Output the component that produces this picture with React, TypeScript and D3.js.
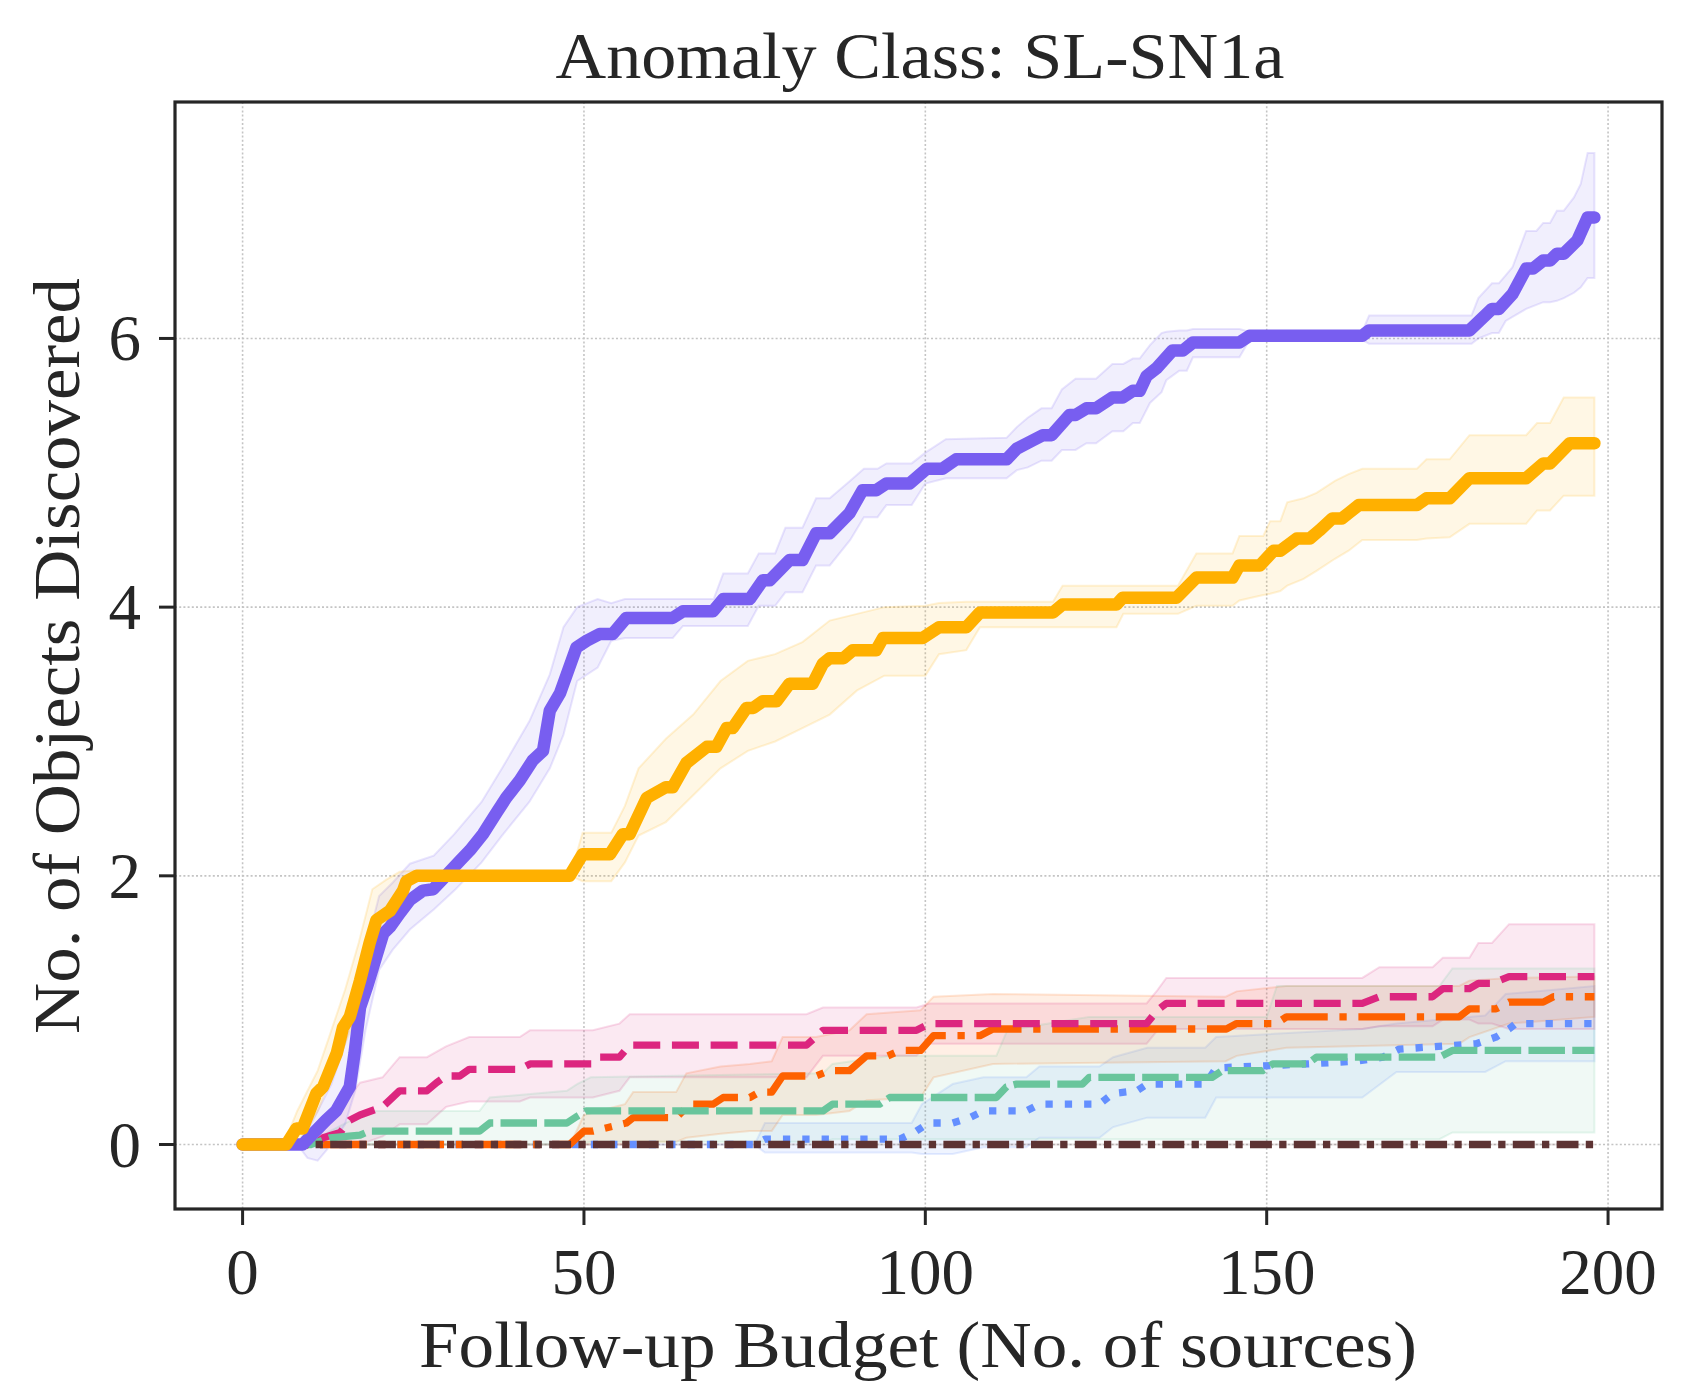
import React, { useEffect, useRef } from "react";
import * as d3 from "d3";

// canvas
const W = 1693;
const H = 1388;

const xTicks = [0, 50, 100, 150, 200];
const yTicks = [0, 2, 4, 6];

// mean curves [budget, objects]
const purpleMean: [number, number][] = [
  [0, 0], [8.8, 0], [10.3, 0.08], [12.2, 0.18], [13.7, 0.25], [15.7, 0.43], [16.4, 0.68], [17.2, 1.02],
  [18.2, 1.17], [19.1, 1.32], [20.6, 1.57], [21.6, 1.62], [23, 1.72], [24.5, 1.82], [26.4, 1.89], [27.9, 1.9],
  [29.4, 1.98], [31.8, 2.11], [33.3, 2.19], [35.2, 2.31], [37.2, 2.47], [38.6, 2.58], [40.6, 2.71], [42.5, 2.86],
  [44, 2.93], [45, 3.23], [46.5, 3.36], [48.9, 3.7], [50.4, 3.75], [52.3, 3.8], [54.2, 3.8], [56.2, 3.92],
  [63, 3.92], [64.5, 3.97], [68.9, 3.97], [70.4, 4.06], [74.3, 4.06], [76.2, 4.2], [77.2, 4.2], [80.1, 4.35],
  [82, 4.35], [84, 4.55], [86, 4.55], [88.9, 4.7], [90.8, 4.87], [92.8, 4.87], [94.3, 4.92], [97.7, 4.92],
  [100.2, 5.03], [102.5, 5.03], [104.5, 5.1], [111.9, 5.1], [113.4, 5.18], [115.7, 5.24], [117.2, 5.28],
  [118.5, 5.28], [121.1, 5.43], [122, 5.43], [123.6, 5.48], [125, 5.48], [127.4, 5.56], [128.9, 5.56],
  [130.4, 5.61], [131.4, 5.61], [132.4, 5.72], [133.9, 5.78], [136.2, 5.91], [137.7, 5.91], [139.2, 5.97],
  [146, 5.97], [147.5, 6.02], [164, 6.02], [165, 6.06], [179.7, 6.06], [183, 6.22], [184, 6.22], [186, 6.33],
  [188, 6.52], [189, 6.52], [190.5, 6.58], [191.5, 6.58], [192.5, 6.63], [193.5, 6.63], [195.5, 6.73],
  [197, 6.9], [198, 6.9],
];

const goldMean: [number, number][] = [
  [0, 0], [6.4, 0], [7.9, 0.12], [8.8, 0.12], [10.8, 0.38], [11.8, 0.43], [13.8, 0.68], [14.7, 0.87],
  [15.7, 0.95], [17.2, 1.22], [18.6, 1.5], [19.6, 1.67], [21.6, 1.74], [23.5, 1.89], [24, 1.96], [25.5, 2.0],
  [47.9, 2.0], [49.8, 2.16], [53.8, 2.16], [55.7, 2.31], [56.7, 2.31], [59.2, 2.58], [62, 2.66], [63, 2.66],
  [65, 2.84], [68, 2.96], [69.4, 2.96], [70.9, 3.1], [71.8, 3.1], [73.8, 3.25], [74.8, 3.25], [76.2, 3.3],
  [78.2, 3.3], [80.1, 3.43], [83.5, 3.43], [85, 3.58], [86, 3.62], [88, 3.62], [89.4, 3.68], [92.8, 3.68],
  [93.8, 3.77], [99.6, 3.77], [102, 3.85], [106, 3.85], [108, 3.96], [118.7, 3.96], [120.1, 4.02], [128, 4.02],
  [128.9, 4.07], [136.8, 4.07], [139.7, 4.22], [145, 4.22], [146, 4.31], [149, 4.31], [151, 4.42], [152, 4.42],
  [154.4, 4.51], [156.3, 4.51], [157.7, 4.57], [159.6, 4.66], [161, 4.66], [162, 4.7], [163.5, 4.76],
  [172, 4.76], [173.4, 4.81], [176.8, 4.81], [179.7, 4.96], [188, 4.96], [190.5, 5.07], [191.5, 5.07],
  [194.4, 5.22], [198, 5.22],
];

const pinkMean: [number, number][] = [
  [0, 0], [10.5, 0], [11.8, 0.05], [14.3, 0.09], [15.7, 0.18], [17.2, 0.22], [20.5, 0.28], [23, 0.4],
  [27, 0.4], [28.4, 0.46], [29.8, 0.51], [31.8, 0.51], [33.2, 0.56], [40.6, 0.56], [42.1, 0.6], [51.3, 0.6],
  [52.3, 0.65], [55.2, 0.65], [56.7, 0.74], [82.6, 0.74], [85, 0.85], [98.7, 0.85], [100.6, 0.9],
  [132.4, 0.9], [134, 1.0], [135.3, 1.05], [164, 1.05], [166.5, 1.1], [174.3, 1.1], [175.8, 1.16],
  [179.7, 1.16], [181, 1.2], [183, 1.2], [185.5, 1.25], [198, 1.25],
];

const orangeMean: [number, number][] = [
  [0, 0], [47.9, 0], [50, 0.1], [51.3, 0.1], [56.2, 0.16], [57.2, 0.2], [63.5, 0.2], [65.5, 0.3], [68.9, 0.3],
  [70.4, 0.35], [74.3, 0.35], [75.7, 0.39], [77.5, 0.39], [79.1, 0.51], [84, 0.51], [86, 0.55], [88.9, 0.55],
  [91.4, 0.66], [94.5, 0.66], [96.3, 0.7], [99.3, 0.7], [101.2, 0.81], [108, 0.81], [109.9, 0.86],
  [144.1, 0.86], [145.6, 0.9], [151.4, 0.9], [152.9, 0.95], [178.2, 0.95], [179.7, 1.01], [183.6, 1.01],
  [185.5, 1.06], [190.5, 1.06], [192, 1.1], [198, 1.1],
];

const greenMean: [number, number][] = [
  [0, 0], [10, 0], [12.8, 0.05], [17.2, 0.07], [18.6, 0.1], [34.7, 0.1], [36.2, 0.16], [47.5, 0.16],
  [49, 0.21], [50.3, 0.25], [85, 0.25], [86.4, 0.3], [93.3, 0.3], [94.8, 0.35], [110.4, 0.35], [111.9, 0.43],
  [113.4, 0.45], [123, 0.45], [124, 0.5], [142, 0.5], [143.5, 0.55], [149.4, 0.55], [150.9, 0.6], [156, 0.6],
  [157.3, 0.65], [175.3, 0.65], [177.2, 0.7], [198, 0.7],
];

const blueMean: [number, number][] = [
  [0, 0], [75, 0], [76.5, 0.04], [96.3, 0.04], [98.7, 0.1], [100.5, 0.16], [104, 0.16], [106.5, 0.2],
  [108.5, 0.25], [114.8, 0.25], [116.7, 0.3], [125.5, 0.3], [127.5, 0.38], [131, 0.4], [132.5, 0.45],
  [141, 0.45], [142.6, 0.57], [156, 0.6], [163, 0.62], [167, 0.65], [169.4, 0.71], [180.7, 0.75],
  [183.6, 0.8], [185.5, 0.86], [186.5, 0.9], [198, 0.9],
];

const brownMean: [number, number][] = [[0, 0], [198, 0]];

// spread bands [budget, low, high]
const purpleBand: [number, number, number][] = [
  [0, 0, 0], [8, 0, 0], [9.5, -0.1, 0.1], [11, -0.12, 0.25], [13, 0, 0.45], [15, 0.15, 0.75], [16.5, 0.4, 1.05],
  [18, 0.85, 1.45], [20, 1.3, 1.85], [22, 1.45, 1.95], [24.5, 1.6, 2.09], [28, 1.75, 2.15], [31, 1.89, 2.31],
  [35, 2.1, 2.55], [38, 2.3, 2.8], [42, 2.55, 3.15], [45, 2.8, 3.5], [47, 3.05, 3.85], [49, 3.45, 4.0],
  [52, 3.55, 4.06], [54, 3.75, 4.03], [56, 3.77, 4.06], [63, 3.77, 4.06], [64.5, 3.86, 4.06], [69, 3.86, 4.06],
  [70.4, 3.86, 4.25], [74, 3.86, 4.25], [75.6, 4.01, 4.4], [78, 4.01, 4.4], [79.5, 4.11, 4.59], [82, 4.11, 4.59],
  [84, 4.31, 4.81], [86, 4.31, 4.81], [89, 4.5, 4.94], [91, 4.67, 5.03], [93, 4.67, 5.03], [94.3, 4.76, 5.07],
  [98, 4.76, 5.07], [100, 4.92, 5.15], [103, 4.96, 5.25], [111.9, 4.96, 5.26], [113.4, 5.02, 5.34],
  [115, 5.04, 5.41], [117, 5.09, 5.48], [118.5, 5.09, 5.48], [120, 5.17, 5.62], [122, 5.17, 5.7],
  [123.6, 5.22, 5.7], [125, 5.22, 5.7], [127.4, 5.31, 5.81], [129, 5.31, 5.81], [130.4, 5.37, 5.85],
  [131.4, 5.37, 5.85], [132.9, 5.52, 5.95], [134.6, 5.6, 6.04], [135.3, 5.69, 6.05], [137.2, 5.76, 6.06],
  [138.3, 5.76, 6.06], [139.2, 5.86, 6.07], [146, 5.86, 6.07], [147.5, 5.99, 6.05], [164, 5.99, 6.05],
  [165, 5.96, 6.17], [180, 5.96, 6.17], [181, 6.0, 6.3], [183, 6.04, 6.41], [184, 6.04, 6.41], [185, 6.13, 6.47],
  [186, 6.16, 6.53], [188, 6.22, 6.8], [189.5, 6.25, 6.8], [190.5, 6.27, 6.86], [191.5, 6.27, 6.86],
  [192.5, 6.28, 6.95], [193.5, 6.3, 6.95], [195, 6.34, 7.05], [196, 6.38, 7.15], [197, 6.45, 7.38],
  [198, 6.45, 7.38],
];

const goldBand: [number, number, number][] = [
  [0, 0, 0], [6, 0, 0], [8, 0, 0.25], [11, 0.25, 0.55], [13, 0.5, 0.85], [15, 0.75, 1.15], [17, 1.0, 1.5],
  [19, 1.4, 1.9], [21, 1.6, 1.97], [23, 1.8, 2.03], [25, 1.96, 2.04], [27, 2.0, 2.0], [48, 2.0, 2.0],
  [49.8, 1.96, 2.32], [54, 1.96, 2.32], [56, 2.1, 2.52], [58, 2.3, 2.8], [62, 2.4, 3.02], [66, 2.6, 3.2],
  [70, 2.8, 3.45], [74, 2.93, 3.6], [78, 3.0, 3.65], [82, 3.1, 3.74], [86, 3.2, 3.9], [90, 3.38, 3.95],
  [94, 3.49, 4.0], [100, 3.49, 4.01], [102, 3.65, 4.03], [106, 3.68, 4.04], [108, 3.85, 4.04],
  [118.7, 3.85, 4.04], [120.1, 3.85, 4.16], [128, 3.85, 4.16], [129, 3.95, 4.16], [137, 3.95, 4.16],
  [139.7, 4.01, 4.4], [145, 4.01, 4.4], [146, 4.05, 4.53], [149.5, 4.09, 4.53], [150.5, 4.1, 4.64],
  [152, 4.12, 4.64], [153, 4.16, 4.78], [155.4, 4.21, 4.81], [157.3, 4.27, 4.85], [160, 4.36, 4.94],
  [162, 4.42, 4.99], [164, 4.5, 5.03], [172, 4.5, 5.03], [173.4, 4.51, 5.1], [176.8, 4.52, 5.1],
  [179.7, 4.62, 5.28], [188, 4.62, 5.28], [189.6, 4.72, 5.37], [191.5, 4.72, 5.37], [193.5, 4.83, 5.56],
  [198, 4.83, 5.56],
];

const pinkBand: [number, number, number][] = [
  [0, 0, 0], [10.5, 0, 0], [12, -0.02, 0.12], [15.7, 0, 0.36], [17.2, 0, 0.46], [20.5, 0.06, 0.5],
  [23, 0.15, 0.65], [27, 0.15, 0.65], [29.8, 0.28, 0.73], [33.2, 0.32, 0.8], [40.6, 0.32, 0.8],
  [42.1, 0.35, 0.85], [51.3, 0.35, 0.85], [55.2, 0.4, 0.9], [56.7, 0.5, 0.97], [82.6, 0.5, 0.97],
  [85, 0.66, 1.02], [98.7, 0.66, 1.02], [100.6, 0.75, 1.05], [132.4, 0.75, 1.05], [134, 0.85, 1.15],
  [135.3, 0.86, 1.24], [164, 0.86, 1.24], [166.5, 0.88, 1.32], [174.3, 0.88, 1.32], [175.8, 0.93, 1.39],
  [179.7, 0.93, 1.39], [181, 0.9, 1.5], [183, 0.9, 1.5], [185.5, 0.86, 1.64], [198, 0.86, 1.64],
];

const orangeBand: [number, number, number][] = [
  [0, 0, 0], [48, 0, 0], [50, 0, 0.22], [56, 0, 0.3], [57.2, 0.02, 0.39], [63.5, 0.02, 0.39], [65, 0.05, 0.53],
  [70, 0.08, 0.58], [74.3, 0.1, 0.6], [77.5, 0.1, 0.62], [79.1, 0.22, 0.8], [84, 0.22, 0.8], [88.9, 0.25, 0.85],
  [91.4, 0.33, 0.97], [99.3, 0.35, 1.0], [101.2, 0.5, 1.1], [109.9, 0.6, 1.12], [144, 0.62, 1.1],
  [145.6, 0.66, 1.14], [152.9, 0.72, 1.18], [178.2, 0.75, 1.18], [179.7, 0.8, 1.22], [185.5, 0.9, 1.24],
  [198, 0.95, 1.25],
];

const greenBand: [number, number, number][] = [
  [0, 0, 0], [10, 0, 0], [12.8, 0, 0.1], [18.6, 0, 0.25], [34.7, 0, 0.25], [36.2, 0, 0.35], [47.5, 0, 0.4],
  [49, 0, 0.45], [51, 0.02, 0.5], [85, 0.02, 0.53], [86.4, 0.04, 0.6], [94.8, 0.04, 0.66], [110.4, 0.04, 0.66],
  [112, 0.04, 0.85], [124, 0.04, 0.95], [150, 0.04, 0.95], [151.5, 0.04, 1.18], [175.3, 0.04, 1.18],
  [177.2, 0.09, 1.31], [198, 0.09, 1.31],
];

const blueBand: [number, number, number][] = [
  [0, 0, 0], [75, 0, 0], [76.5, -0.06, 0.16], [98, -0.06, 0.16], [99.5, -0.07, 0.3], [104, -0.07, 0.45],
  [108.5, -0.02, 0.5], [114.8, -0.02, 0.5], [116.7, 0.05, 0.58], [125.5, 0.05, 0.58], [127.5, 0.13, 0.65],
  [132.5, 0.2, 0.72], [141, 0.2, 0.72], [142.6, 0.35, 0.8], [164, 0.35, 0.86], [169, 0.54, 0.9],
  [182, 0.54, 0.96], [185, 0.62, 1.12], [198, 0.62, 1.18],
];

const brownBand: [number, number, number][] = [[0, 0, 0], [198, 0, 0]];

type Series = {
  mean: [number, number][];
  band: [number, number, number][];
  color: string;
  width: number;
  dash: string | null;
};

const LW = 7.3;

// draw order (back to front)
const SERIES: Series[] = [
  { mean: blueMean, band: blueBand, color: "#648FFF", width: LW, dash: `${LW} ${LW * 1.65}` },
  { mean: orangeMean, band: orangeBand, color: "#FE6100", width: LW, dash: `${LW * 6.4} ${LW * 1.6} ${LW} ${LW * 1.6}` },
  { mean: pinkMean, band: pinkBand, color: "#DC267F", width: LW, dash: `${LW * 3.7} ${LW * 1.6}` },
  { mean: greenMean, band: greenBand, color: "#69C59C", width: LW, dash: `${LW * 5} ${LW}` },
  { mean: brownMean, band: brownBand, color: "#5D3333", width: LW, dash: `${LW * 3} ${LW} ${LW} ${LW}` },
  { mean: purpleMean, band: purpleBand, color: "#785EF0", width: 12.5, dash: null },
  { mean: goldMean, band: goldBand, color: "#FFB000", width: 12.5, dash: null },
];

const FONT = "'Liberation Serif', 'DejaVu Serif', serif";
const INK = "#262626";

const App: React.FC = () => {
  const svgRef = useRef<SVGSVGElement>(null);

  useEffect(() => {
    const svg = d3.select(svgRef.current);
    svg.html("");

    const left = 175, right = 1662, top = 102, bottom = 1209;

    const x = d3.scaleLinear().domain([-9.9, 207.9]).range([left, right]);
    const y = d3.scaleLinear().domain([-0.48, 7.76]).range([bottom, top]);

    svg.append("rect").attr("width", W).attr("height", H).attr("fill", "#fff");

    // grid
    const grid = svg.append("g").attr("stroke", "#c4c4c4").attr("stroke-width", 1.6).attr("stroke-dasharray", "2 2.2");
    xTicks.forEach((t) => {
      grid.append("line").attr("x1", x(t)).attr("x2", x(t)).attr("y1", top).attr("y2", bottom);
    });
    yTicks.forEach((t) => {
      grid.append("line").attr("x1", left).attr("x2", right).attr("y1", y(t)).attr("y2", y(t));
    });

    const area = d3
      .area<[number, number, number]>()
      .x((d) => x(d[0]))
      .y0((d) => y(d[1]))
      .y1((d) => y(d[2]));
    const line = d3
      .line<[number, number]>()
      .x((d) => x(d[0]))
      .y((d) => y(d[1]));

    // bands
    SERIES.forEach((s) => {
      svg
        .append("path")
        .datum(s.band)
        .attr("d", area)
        .attr("fill", s.color)
        .attr("fill-opacity", 0.1)
        .attr("stroke", s.color)
        .attr("stroke-opacity", 0.16)
        .attr("stroke-width", 2);
    });

    // mean lines
    SERIES.forEach((s) => {
      const p = svg
        .append("path")
        .datum(s.mean)
        .attr("d", line)
        .attr("fill", "none")
        .attr("stroke", s.color)
        .attr("stroke-width", s.width)
        .attr("stroke-linejoin", "round")
        .attr("stroke-linecap", s.dash ? "butt" : "round");
      if (s.dash) p.attr("stroke-dasharray", s.dash);
    });

    // frame
    svg
      .append("rect")
      .attr("x", left)
      .attr("y", top)
      .attr("width", right - left)
      .attr("height", bottom - top)
      .attr("fill", "none")
      .attr("stroke", INK)
      .attr("stroke-width", 3.2);

    // ticks
    const ticks = svg.append("g").attr("stroke", INK).attr("stroke-width", 3);
    xTicks.forEach((t) => {
      ticks.append("line").attr("x1", x(t)).attr("x2", x(t)).attr("y1", bottom).attr("y2", bottom + 16);
    });
    yTicks.forEach((t) => {
      ticks.append("line").attr("x1", left - 16).attr("x2", left).attr("y1", y(t)).attr("y2", y(t));
    });

    const text = svg.append("g").attr("font-family", FONT).attr("fill", INK);

    xTicks.forEach((t) => {
      text
        .append("text")
        .attr("x", x(t))
        .attr("y", 1294)
        .attr("text-anchor", "middle")
        .attr("font-size", 65)
        .text(String(t));
    });
    yTicks.forEach((t) => {
      text
        .append("text")
        .attr("x", 141)
        .attr("y", y(t) + 22)
        .attr("text-anchor", "end")
        .attr("font-size", 65)
        .text(String(t));
    });

    text
      .append("text")
      .attr("x", 920)
      .attr("y", 78)
      .attr("text-anchor", "middle")
      .attr("font-size", 65)
      .attr("textLength", 729)
      .attr("lengthAdjust", "spacingAndGlyphs")
      .text("Anomaly Class: SL-SN1a");

    text
      .append("text")
      .attr("x", 918)
      .attr("y", 1367)
      .attr("text-anchor", "middle")
      .attr("font-size", 65)
      .attr("textLength", 998)
      .attr("lengthAdjust", "spacingAndGlyphs")
      .text("Follow-up Budget (No. of sources)");

    text
      .append("text")
      .attr("transform", `translate(79,656) rotate(-90)`)
      .attr("text-anchor", "middle")
      .attr("font-size", 65)
      .attr("textLength", 756)
      .attr("lengthAdjust", "spacingAndGlyphs")
      .text("No. of Objects Discovered");
  }, []);

  return (
    <svg
      ref={svgRef}
      width={W}
      height={H}
      style={{ position: "absolute", left: 0, top: 0, display: "block" }}
    />
  );
};

export default App;
